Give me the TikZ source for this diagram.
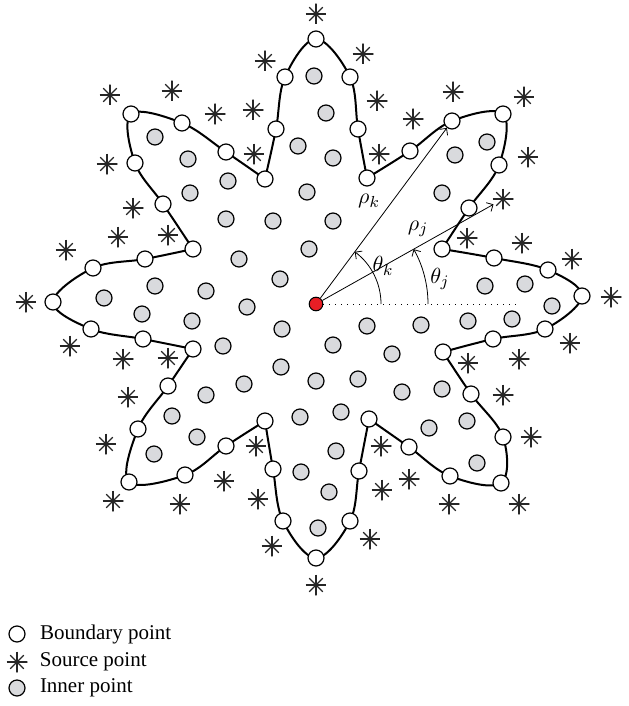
\documentclass[tikz,border=0pt]{standalone}
\usepackage{fontspec}
\setmainfont{Liberation Serif}
\usepackage{tikz}
\usetikzlibrary{arrows.meta}
\usetikzlibrary{positioning,backgrounds}
\definecolor{innergray}{RGB}{217,218,221}
\definecolor{originred}{RGB}{232,30,37}

\begin{document}
\begin{tikzpicture}[x=0.5pt,y=-0.5pt,
        bpoint/.style={circle, draw, line width=0.6pt, fill=white, inner sep=0pt, minimum size=8pt},
        ipoint/.style={circle, draw, line width=0.6pt, fill=innergray, inner sep=0pt, minimum size=8pt},
        spoint/.style={circle, inner sep=0pt, minimum size=10.5pt, path picture={
            \draw[line width=0.55pt, black!85] (path picture bounding box.north) -- (path picture bounding box.south)
                (path picture bounding box.west) -- (path picture bounding box.east);
            \draw[line width=0.55pt, black!85, shorten <=2.6pt, shorten >=2.6pt]
                (path picture bounding box.north west) -- (path picture bounding box.south east);
            \draw[line width=0.55pt, black!85, shorten <=2.6pt, shorten >=2.6pt]
                (path picture bounding box.north east) -- (path picture bounding box.south west);}},
        rim/.style={line width=1pt, line join=round},
        thin arrow/.style={line width=0.4pt, -{Straight Barb[length=2.5pt,width=5pt]}},
        angle label/.style={font=\fontsize{11}{13}\selectfont},
        legend text/.style={inner sep=0pt, font=\fontsize{10.5}{12}\selectfont}]
    \useasboundingbox (0,0) rectangle (628,706);

    % boundary points, counterclockwise from the top
    \foreach \x/\y [count=\i] in {316/39,285/77,276/129,265/179,226/152,182/123,131/114,135/163,
            163/204,193/249,145/259,93/268,53/302,91/329,143/339,193/349,168/386,138/429,129/482,
            185/475,226/446,265/421,273/469,283/521,316/558,350/521,359/471,369/419,409/447,450/476,
            501/483,503/437,471/394,443/352,493/339,545/329,582/296,548/270,494/258,442/249,469/208,
            499/165,503/114,452/121,410/151,367/178,358/129,350/77}
        \node[bpoint] (b\i) at (\x,\y) {};

    % the rim, one petal from valley to valley
    \begin{scope}[on background layer]
        \foreach \v in {4,10,...,46}{
            \pgfmathtruncatemacro\pa{mod(\v,48)+1}
            \pgfmathtruncatemacro\pb{mod(\v+1,48)+1}
            \pgfmathtruncatemacro\pc{mod(\v+2,48)+1}
            \pgfmathtruncatemacro\pd{mod(\v+3,48)+1}
            \pgfmathtruncatemacro\pe{mod(\v+4,48)+1}
            \pgfmathtruncatemacro\pf{mod(\v+5,48)+1}
            \draw[rim] plot[smooth, tension=0.6] coordinates {(b\v.center) (b\pa.center) (b\pb.center)
                (b\pc.center) (b\pd.center) (b\pe.center) (b\pf.center)};
        }
    \end{scope}

    % source points
    \foreach \x/\y [count=\i] in {316/14,265/61,253/110,254/154,215/114,172/91,110/95,107/164,
            133/208,168/235,118/237,66/250,26/302,70/346,123/359,168/358,128/397,106/444,113/501,
            180/504,224/481,256/446,258/499,272/546,316/585,370/539,382/490,381/446,409/479,449/504,
            519/504,531/437,503/395,468/363,519/359,570/343,611/297,572/259,522/243,467/238,503/199,
            528/157,524/97,453/92,413/119,379/154,377/101,363/54}
        \node[spoint] (s\i) at (\x,\y) {};

    % inner points
    \foreach \x/\y [count=\i] in {314/76,326/113,298/146,333/158,307/192,155/137,188/159,228/181,
            190/193,226/219,273/221,309/249,333/221,239/259,280/279,206/291,247/307,282/329,
            104/298,155/286,142/314,192/321,223/346,244/384,281/367,206/395,172/416,197/437,154/454,
            316/381,300/417,301/472,318/528,341/412,336/451,329/492,358/379,392/354,402/392,442/389,
            467/421,429/428,477/463,333/345,367/326,421/325,468/321,512/319,552/306,485/286,525/284,
            487/142,455/155,442/193}
        \node[ipoint] (i\i) at (\x,\y) {};

    % origin, radii and angles
    \node[circle, draw, line width=0.5pt, fill=originred, inner sep=0pt, minimum size=6.8pt] (O) at (316,304) {};
    \coordinate (xaxis) at (517,304);
    \draw[line width=0.5pt, dash pattern=on 0.5pt off 2.5pt] (O) -- (xaxis);
    \draw[thin arrow] (O) -- (b44);
    \draw[thin arrow] (O) -- (s41);
    \draw[thin arrow] (O.center) ++(65,0) arc[start angle=0, end angle=-53.4, radius=65];
    \draw[thin arrow] (O.center) ++(112,0) arc[start angle=0, end angle=-29.3, radius=112];
    \node[angle label] (rk) at (369,201) {$\rho_k$};
    \node[angle label] (rj) at (418,229) {$\rho_j$};
    \node[angle label] (tk) at (383,266) {$\theta_k$};
    \node[angle label] (tj) at (440,279) {$\theta_j$};

    % legend
    \node[bpoint] (lb) at (17,634) {};
    \node[legend text, right=7pt of lb] (lbt) {Boundary point};
    \node[spoint] (ls) at (17,662) {};
    \node[legend text, right=5.8pt of ls] (lst) {Source point};
    \node[ipoint] (li) at (17,688) {};
    \node[legend text, right=7pt of li] (lit) {Inner point};
\end{tikzpicture}
\end{document}
